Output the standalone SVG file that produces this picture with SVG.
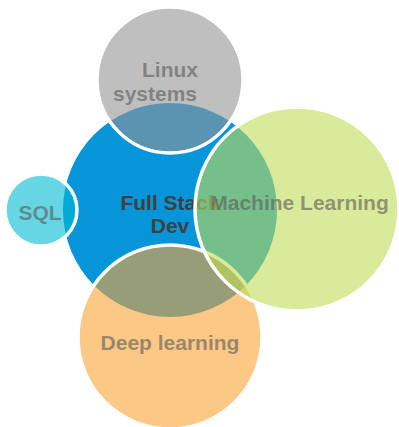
<svg xmlns="http://www.w3.org/2000/svg" width="399" height="427" viewBox="0 0 399 427">
  <style>
    .sat { stroke: #ffffff; stroke-width: 3.5; fill-opacity: 0.6; }
    .lbl { font-family: "Liberation Sans", Arial, sans-serif; font-weight: bold; font-size: 21px; text-anchor: middle; }
    .satlbl { fill: #595959; fill-opacity: 0.6; }
  </style>
  <rect width="399" height="427" fill="#ffffff"/>
  <g id="full-stack-dev">
    <circle cx="170" cy="210" r="107" fill="#0795d9"/>
    <text class="lbl" x="170" y="210" fill="#404040">Full Stack</text>
    <text class="lbl" x="170" y="233" fill="#404040">Dev</text>
  </g>
  <g id="linux-systems">
    <circle class="sat" cx="170" cy="80" r="73" fill="#949494"/>
    <text class="lbl satlbl" x="170" y="77">Linux</text>
    <text class="lbl satlbl" x="155" y="101">systems</text>
  </g>
  <g id="deep-learning">
    <circle class="sat" cx="170" cy="337" r="92" fill="#f8a336"/>
    <text class="lbl satlbl" x="170" y="350">Deep learning</text>
  </g>
  <g id="machine-learning">
    <circle class="sat" cx="297" cy="209" r="102" fill="#bfdc56"/>
    <text class="lbl satlbl" x="299.5" y="210">Machine Learning</text>
  </g>
  <g id="sql">
    <circle class="sat" cx="41" cy="210" r="36" fill="#00bbd2"/>
    <text class="lbl satlbl" x="40" y="220">SQL</text>
  </g>
  <g id="connectors"/>
</svg>
